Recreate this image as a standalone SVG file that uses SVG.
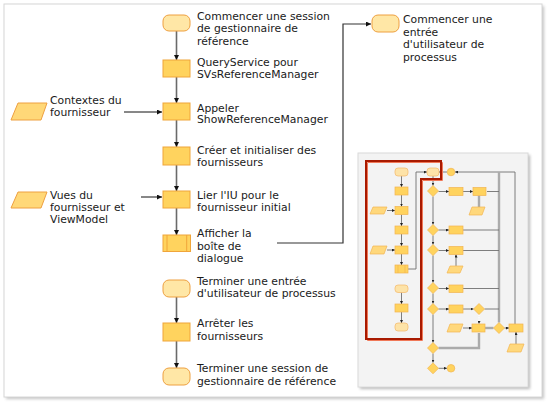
<svg xmlns="http://www.w3.org/2000/svg" width="551" height="408" viewBox="0 0 551 408">
<defs>
<style>
.t{font-family:"DejaVu Sans","Liberation Sans",sans-serif;font-size:10.8px;fill:#1a1a1a}
.term{fill:#ffe7a6;stroke:#eea040;stroke-width:1}
.box{fill:#ffd35e;stroke:#f0a53a;stroke-width:1}
.para{fill:#ffd878;stroke:#eea040;stroke-width:1}
.flow{stroke:#6a6a6a;stroke-width:1.6;fill:none}
.side{stroke:#111;stroke-width:1;fill:none}
.sterm{fill:#fde3a8;stroke:#f3b868;stroke-width:0.7}
.sbox{fill:#ffd35e;stroke:#f2b450;stroke-width:0.7}
.spara{fill:#ffd87c;stroke:#f2b450;stroke-width:0.7}
.sdia{fill:#ffd35e;stroke:#f2b450;stroke-width:0.7}
.thin{stroke:#707070;stroke-width:0.9;fill:none}
.thick{stroke:#ababab;stroke-width:2.4;fill:none}
</style>
<marker id="ah" viewBox="0 0 10 10" refX="10" refY="5" markerWidth="5" markerHeight="5" markerUnits="userSpaceOnUse" orient="auto"><path d="M0,0L10,5L0,10z" fill="#111"/></marker>
<marker id="as" viewBox="0 0 10 10" refX="10" refY="5" markerWidth="3" markerHeight="3" markerUnits="userSpaceOnUse" orient="auto"><path d="M0,0L10,5L0,10z" fill="#222"/></marker>
<filter id="sh" x="-5%" y="-5%" width="115%" height="115%"><feGaussianBlur stdDeviation="1.5"/></filter>
</defs>

<!-- outer frame -->
<rect x="6" y="6" width="538" height="393" fill="#c4c4c4" filter="url(#sh)"/>
<rect x="4" y="4" width="538" height="393" fill="#fff" stroke="#d6d6d6" stroke-width="1"/>

<g id="connectors">
<line class="flow" x1="176.5" y1="31" x2="176.5" y2="60" marker-end="url(#ah)"/>
<line class="flow" x1="176.5" y1="77" x2="176.5" y2="103" marker-end="url(#ah)"/>
<line class="flow" x1="176.5" y1="120" x2="176.5" y2="147" marker-end="url(#ah)"/>
<line class="flow" x1="176.5" y1="165" x2="176.5" y2="191" marker-end="url(#ah)"/>
<line class="flow" x1="176.5" y1="208" x2="176.5" y2="235" marker-end="url(#ah)"/>
<line class="flow" x1="176.5" y1="297" x2="176.5" y2="323" marker-end="url(#ah)"/>
<line class="flow" x1="176.5" y1="341" x2="176.5" y2="368" marker-end="url(#ah)"/>
<line class="side" x1="124" y1="112" x2="162" y2="112" marker-end="url(#ah)"/>
<line class="side" x1="141" y1="197" x2="162" y2="197" marker-end="url(#ah)"/>
<polyline points="277,243 343,243 343,24 371,24" fill="none" stroke="#333" stroke-width="1.2" marker-end="url(#ah)"/>
</g>

<g id="n-start"><rect class="term" x="163" y="15" width="27" height="16" rx="6"/>
<text class="t" x="197" y="20">Commencer une session</text><text class="t" x="197" y="32">de gestionnaire de</text><text class="t" x="197" y="44.5">référence</text></g>
<g id="n-query"><rect class="box" x="163" y="60" width="27" height="17"/>
<text class="t" x="197" y="66">QueryService pour</text><text class="t" x="197" y="78">SVsReferenceManager</text></g>
<g id="n-contextes"><polygon class="para" points="18,103 47,103 41,120 11,120"/>
<text class="t" x="50" y="104.3">Contextes du</text><text class="t" x="50" y="116">fournisseur</text></g>
<g id="n-appeler"><rect class="box" x="163" y="103" width="27" height="17"/>
<text class="t" x="197" y="111.7">Appeler</text><text class="t" x="197" y="123.3">ShowReferenceManager</text></g>
<g id="n-creer"><rect class="box" x="163" y="147" width="27" height="18"/>
<text class="t" x="197" y="154.3">Créer et initialiser des</text><text class="t" x="197" y="166">fournisseurs</text></g>
<g id="n-vues"><polygon class="para" points="18,192 47,192 41,208 11,208"/>
<text class="t" x="50" y="199.3">Vues du</text><text class="t" x="50" y="211">fournisseur et</text><text class="t" x="50" y="223.3">ViewModel</text></g>
<g id="n-lier"><rect class="box" x="163" y="191" width="27" height="17"/>
<text class="t" x="197" y="199.3">Lier l'IU pour le</text><text class="t" x="197" y="211">fournisseur initial</text></g>
<g id="n-afficher"><rect class="box" x="163" y="235" width="27.5" height="16.5"/>
<line x1="167" y1="235" x2="167" y2="251.5" stroke="#f0a53a"/><line x1="186.7" y1="235" x2="186.7" y2="251.5" stroke="#f0a53a"/>
<text class="t" x="197" y="237.3">Afficher la</text><text class="t" x="197" y="250">boîte de</text><text class="t" x="197" y="261.7">dialogue</text></g>
<g id="n-commencer-entree"><rect class="term" x="372" y="15" width="27" height="17" rx="6"/>
<text class="t" x="403" y="23.3">Commencer une</text><text class="t" x="403" y="36">entrée</text><text class="t" x="403" y="48.3">d'utilisateur de</text><text class="t" x="403" y="60.5">processus</text></g>
<g id="n-terminer-entree"><rect class="term" x="163" y="280" width="27" height="17" rx="6"/>
<text class="t" x="197" y="285">Terminer une entrée</text><text class="t" x="197" y="296.7">d'utilisateur de processus</text></g>
<g id="n-arreter"><rect class="box" x="163" y="323" width="27" height="18"/>
<text class="t" x="197" y="327.3">Arrêter les</text><text class="t" x="197" y="340">fournisseurs</text></g>
<g id="n-end"><rect class="term" x="163" y="368" width="27" height="17" rx="6"/>
<text class="t" x="197" y="372.3">Terminer une session de</text><text class="t" x="197" y="385">gestionnaire de référence</text></g>

<!-- thumbnail -->
<g id="thumbnail">
<rect x="360" y="155" width="170" height="234" fill="#b8b8b8" filter="url(#sh)"/>
<rect x="358" y="153" width="170" height="234" fill="#f3f3f3" stroke="#dadada" stroke-width="1"/>
<!-- thumbnail connectors -->
<g>
<line class="thin" x1="401.5" y1="176" x2="401.5" y2="187" marker-end="url(#as)"/>
<line class="thin" x1="401.5" y1="195" x2="401.5" y2="206.5" marker-end="url(#as)"/>
<line class="thin" x1="401.5" y1="214.5" x2="401.5" y2="226" marker-end="url(#as)"/>
<line class="thin" x1="401.5" y1="234" x2="401.5" y2="246" marker-end="url(#as)"/>
<line class="thin" x1="401.5" y1="254" x2="401.5" y2="265" marker-end="url(#as)"/>
<line class="thin" x1="401.5" y1="292.5" x2="401.5" y2="304" marker-end="url(#as)"/>
<line class="thin" x1="401.5" y1="312" x2="401.5" y2="323" marker-end="url(#as)"/>
<line class="thin" x1="387" y1="210.5" x2="395" y2="210.5" marker-end="url(#as)"/>
<line class="thin" x1="387" y1="250" x2="395" y2="250" marker-end="url(#as)"/>
<polyline class="thin" points="408,269 416,269 416,172 427,172" marker-end="url(#as)"/>
<line class="thin" x1="447" y1="172" x2="439" y2="172" marker-end="url(#as)"/>
<polyline class="thin" points="515,324 515,172 455,172" marker-end="url(#as)"/>
<line class="thick" x1="499" y1="172" x2="499" y2="322.5"/>
<line class="thin" x1="433" y1="176" x2="433" y2="185.5" marker-end="url(#as)"/>
<line class="thin" x1="433" y1="196.5" x2="433" y2="224.5" marker-end="url(#as)"/>
<line class="thin" x1="433" y1="235.5" x2="433" y2="244.5" marker-end="url(#as)"/>
<line class="thin" x1="433" y1="255.5" x2="433" y2="282.5" marker-end="url(#as)"/>
<line class="thin" x1="433" y1="293.5" x2="433" y2="303.5" marker-end="url(#as)"/>
<line class="thin" x1="433" y1="314.5" x2="433" y2="342.5" marker-end="url(#as)"/>
<line class="thin" x1="433" y1="353.5" x2="433" y2="362.5" marker-end="url(#as)"/>
<line class="thin" x1="438.5" y1="368.3" x2="447" y2="368.3" marker-end="url(#as)"/>
<line class="thin" x1="438.5" y1="191.5" x2="449" y2="191.5" marker-end="url(#as)"/>
<line class="thin" x1="463" y1="191.5" x2="473" y2="191.5" marker-end="url(#as)"/>
<line class="thin" x1="487" y1="191.5" x2="499" y2="191.5"/>
<line class="thick" x1="479" y1="207" x2="479" y2="195.5"/>
<line class="thin" x1="438.5" y1="230" x2="449" y2="230" marker-end="url(#as)"/>
<line class="thin" x1="463" y1="230" x2="499" y2="230"/>
<line class="thin" x1="438.5" y1="250.5" x2="449" y2="250.5" marker-end="url(#as)"/>
<line class="thin" x1="463" y1="250.5" x2="499" y2="250.5"/>
<line class="thin" x1="456" y1="266" x2="456" y2="254.5" marker-end="url(#as)"/>
<line class="thin" x1="438.5" y1="288.5" x2="449" y2="288.5" marker-end="url(#as)"/>
<line class="thin" x1="463" y1="288.5" x2="499" y2="288.5"/>
<line class="thin" x1="438.5" y1="309" x2="449" y2="309" marker-end="url(#as)"/>
<line class="thin" x1="463" y1="309" x2="473.5" y2="309" marker-end="url(#as)"/>
<line class="thin" x1="484.5" y1="309" x2="499" y2="309"/>
<line x1="479" y1="314.5" x2="479" y2="324" stroke="#fff" stroke-width="1.2" stroke-dasharray="1.5,1" marker-end="url(#as)"/>
<line class="thin" x1="463" y1="328" x2="472" y2="328" marker-end="url(#as)"/>
<line class="thick" x1="485" y1="328" x2="493.5" y2="328"/>
<line class="thin" x1="504.5" y1="328" x2="509" y2="328" marker-end="url(#as)"/>
<line class="thin" x1="516" y1="344" x2="516" y2="332" marker-end="url(#as)"/>
<polyline class="thick" points="438.5,348 479,348 479,333"/>
</g>
<!-- thumbnail shapes -->
<rect class="sterm" x="395" y="168" width="13" height="8" rx="3"/>
<rect class="sbox" x="395" y="187" width="13" height="8"/>
<polygon class="spara" points="373,207 387,207 384,214 370,214"/>
<rect class="sbox" x="395" y="206.5" width="13" height="8"/>
<rect class="sbox" x="395" y="226" width="13" height="8"/>
<polygon class="spara" points="373,246 387,246 384,254 370,254"/>
<rect class="sbox" x="395" y="246" width="13" height="8"/>
<rect class="sbox" x="395" y="265" width="13" height="8"/>
<line x1="398" y1="265" x2="398" y2="273" stroke="#f2b450" stroke-width="0.7"/><line x1="405" y1="265" x2="405" y2="273" stroke="#f2b450" stroke-width="0.7"/>
<rect class="sterm" x="395" y="285" width="13" height="7.5" rx="3"/>
<rect class="sbox" x="395" y="304" width="13" height="8"/>
<rect class="sterm" x="395" y="323" width="13" height="8" rx="3"/>
<rect class="sterm" x="427" y="168" width="12" height="8" rx="3"/>
<circle cx="451" cy="172" r="3.8" fill="#ffd35e" stroke="#f2b450" stroke-width="0.7"/>
<circle cx="451" cy="368.3" r="3.8" fill="#ffd35e" stroke="#f2b450" stroke-width="0.7"/>
<polygon class="sdia" points="433,185.5 438.5,191 433,196.5 427.5,191"/>
<polygon class="sdia" points="433,224.5 438.5,230 433,235.5 427.5,230"/>
<polygon class="sdia" points="433,244.5 438.5,250 433,255.5 427.5,250"/>
<polygon class="sdia" points="433,282.5 438.5,288 433,293.5 427.5,288"/>
<polygon class="sdia" points="433,303.5 438.5,309 433,314.5 427.5,309"/>
<polygon class="sdia" points="433,342.5 438.5,348 433,353.5 427.5,348"/>
<polygon class="sdia" points="433,362.8 438.5,368.3 433,373.8 427.5,368.3"/>
<polygon class="sdia" points="479,303.5 484.5,309 479,314.5 473.5,309"/>
<polygon class="sdia" points="499,322.5 504.5,328 499,333.5 493.5,328"/>
<rect class="sbox" x="449" y="187.5" width="14" height="8"/>
<rect class="sbox" x="473" y="187.5" width="13" height="8"/>
<polygon class="spara" points="472,207 485,207 482,215 469,215"/>
<rect class="sbox" x="449" y="226" width="14" height="8"/>
<rect class="sbox" x="449" y="246.5" width="14" height="8"/>
<polygon class="spara" points="450,266 463,266 460,273 447,273"/>
<rect class="sbox" x="449" y="285" width="14" height="7.5"/>
<rect class="sbox" x="449" y="305" width="14" height="8"/>
<polygon class="spara" points="450,324 463,324 460,332 447,332"/>
<rect class="sbox" x="472" y="324" width="13" height="8"/>
<rect class="sbox" x="509" y="324" width="14" height="8"/>
<polygon class="spara" points="510,344 524,344 521,352 507,352"/>
<!-- red highlight -->
<path d="M367.5,162.5 H442.5 V180.5 H422.5 V340.5 H367.5 Z" fill="none" stroke="#f07858" stroke-width="1"/>
<path d="M366,161 H441 V179 H421 V339 H366 Z" fill="none" stroke="#a81a00" stroke-width="2"/>
</g>
</svg>
